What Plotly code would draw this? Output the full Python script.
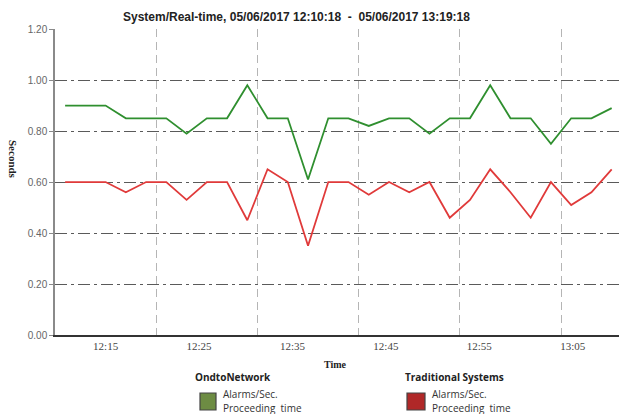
import plotly.graph_objects as go

times = [
    "2017-06-05 12:10:40", "2017-06-05 12:12:50", "2017-06-05 12:15:00", "2017-06-05 12:17:10",
    "2017-06-05 12:19:20", "2017-06-05 12:21:30", "2017-06-05 12:23:40", "2017-06-05 12:25:50",
    "2017-06-05 12:28:00", "2017-06-05 12:30:10", "2017-06-05 12:32:20", "2017-06-05 12:34:30",
    "2017-06-05 12:36:40", "2017-06-05 12:38:50", "2017-06-05 12:41:00", "2017-06-05 12:43:10",
    "2017-06-05 12:45:20", "2017-06-05 12:47:30", "2017-06-05 12:49:40", "2017-06-05 12:51:50",
    "2017-06-05 12:54:00", "2017-06-05 12:56:10", "2017-06-05 12:58:20", "2017-06-05 13:00:30",
    "2017-06-05 13:02:40", "2017-06-05 13:04:50", "2017-06-05 13:07:00", "2017-06-05 13:09:10",
]
ondto_network = [0.90, 0.90, 0.90, 0.85, 0.85, 0.85, 0.79, 0.85, 0.85, 0.98, 0.85, 0.85, 0.61, 0.85,
                 0.85, 0.82, 0.85, 0.85, 0.79, 0.85, 0.85, 0.98, 0.85, 0.85, 0.75, 0.85, 0.85, 0.89]
traditional = [0.60, 0.60, 0.60, 0.56, 0.60, 0.60, 0.53, 0.60, 0.60, 0.45, 0.65, 0.60, 0.35, 0.60,
               0.60, 0.55, 0.60, 0.56, 0.60, 0.46, 0.53, 0.65, 0.56, 0.46, 0.60, 0.51, 0.56, 0.65]
title_text = "System/Real-time, 05/06/2017 12:10:18  -  05/06/2017 13:19:18"

GREEN = "#2f8f2f"
RED = "#e03a3a"

W, H = 619, 414
ML, MR, MT, MB = 55, 0, 29, 79
pw, ph = W - ML - MR, H - MT - MB


def px(x):
    return (x - ML) / pw


def py(y):
    return (H - MB - y) / ph


fig = go.Figure()
fig.add_trace(go.Scatter(x=times, y=ondto_network, mode="lines",
                         line=dict(color=GREEN, width=1.8), showlegend=False, hoverinfo="skip"))
fig.add_trace(go.Scatter(x=times, y=traditional, mode="lines",
                         line=dict(color=RED, width=1.8), showlegend=False, hoverinfo="skip"))

fig.update_layout(
    width=W, height=H,
    margin=dict(l=ML, r=MR, t=MT, b=MB),
    paper_bgcolor="white", plot_bgcolor="white",
    showlegend=False,
    xaxis=dict(
        type="date",
        range=["2017-06-05 12:09:35", "2017-06-05 13:09:57"],
        tick0="2017-06-05 12:15:00", dtick=600000, tickformat="%H:%M",
        showgrid=False, zeroline=False,
        showline=True, linecolor="#333333", linewidth=1.5,
        ticks="", tickfont=dict(family="Liberation Serif", size=11, color="#444444"),
        minor=dict(tick0="2017-06-05 12:20:25", dtick=650000, showgrid=True,
                   griddash="8px,5px", gridcolor="#b5b5b5", gridwidth=1, ticks=""),
    ),
    yaxis=dict(
        range=[0, 1.2003], tick0=0, dtick=0.2, tickformat=".2f",
        showgrid=True, griddash="12px,4px,3px,4px", gridcolor="#5a5a5a", gridwidth=1,
        zeroline=False, showline=True, linecolor="#8a8a8a", linewidth=1.5,
        ticks="outside", ticklen=4, tickcolor="#8a8a8a",
        tickfont=dict(family="Liberation Sans", size=10, color="#666666"),
    ),
)

ann = [
    dict(text="<b>" + title_text + "</b>", x=296, y=17, font=dict(family="Liberation Sans", size=12, color="#222222")),
    dict(text="<b>Seconds</b>", x=13, y=159, textangle=90, font=dict(family="Liberation Serif", size=11, color="#222222")),
    dict(text="<b>Time</b>", x=335, y=364, font=dict(family="Liberation Serif", size=10, color="#222222")),
    dict(text="<b>OndtoNetwork</b>", x=233, y=377, font=dict(family="Open Sans", size=10, color="#222222")),
    dict(text="<b>Traditional Systems</b>", x=454, y=377, font=dict(family="Open Sans", size=10, color="#222222")),
    dict(text="Alarms/Sec.", x=221, y=394, xanchor="left", font=dict(family="Open Sans", size=10, color="#333333")),
    dict(text="Proceeding  time", x=221, y=408, xanchor="left", font=dict(family="Open Sans", size=10, color="#333333")),
    dict(text="Alarms/Sec.", x=430, y=394, xanchor="left", font=dict(family="Open Sans", size=10, color="#333333")),
    dict(text="Proceeding  time", x=430, y=408, xanchor="left", font=dict(family="Open Sans", size=10, color="#333333")),
]
for a in ann:
    fig.add_annotation(text=a["text"], x=px(a["x"]), y=py(a["y"]), xref="paper", yref="paper",
                       xanchor=a.get("xanchor", "center"), yanchor="middle", showarrow=False,
                       textangle=a.get("textangle", 0), font=a["font"])

for (x0, x1, color) in [(200, 216, "#6d8c43"), (407, 425, "#b02828")]:
    fig.add_shape(type="rect", xref="paper", yref="paper",
                  x0=px(x0), x1=px(x1), y0=py(410), y1=py(393),
                  fillcolor=color, line=dict(color="#444444", width=1.2))

fig.write_html("out.html", config={"displayModeBar": False},
               post_script="document.body.style.margin='0px';document.body.style.overflow='hidden';")
